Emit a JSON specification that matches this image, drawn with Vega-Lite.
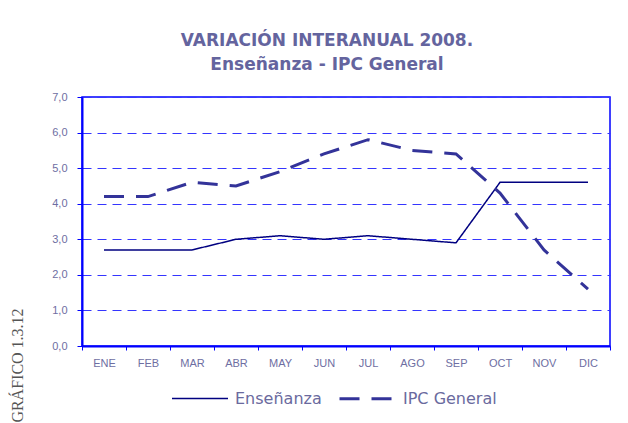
{
  "$schema": "https://vega.github.io/schema/vega-lite/v6.json",
  "width": 528,
  "height": 249,
  "autosize": {"type": "none"},
  "padding": {"left": 82, "top": 97, "right": 18, "bottom": 77},
  "background": "white",
  "title": {
    "text": ["VARIACIÓN INTERANUAL 2008.", "Enseñanza - IPC General"],
    "font": "DejaVu Sans",
    "fontSize": 17,
    "fontWeight": "bold",
    "color": "#64649e",
    "lineHeight": 24,
    "anchor": "middle",
    "frame": "group",
    "baseline": "bottom",
    "offset": 0,
    "dx": -19
  },
  "data": {
    "values": [
      {"mes": "ENE", "serie": "Enseñanza", "valor": 2.7},
      {"mes": "FEB", "serie": "Enseñanza", "valor": 2.7},
      {"mes": "MAR", "serie": "Enseñanza", "valor": 2.7},
      {"mes": "ABR", "serie": "Enseñanza", "valor": 3.0},
      {"mes": "MAY", "serie": "Enseñanza", "valor": 3.1},
      {"mes": "JUN", "serie": "Enseñanza", "valor": 3.0},
      {"mes": "JUL", "serie": "Enseñanza", "valor": 3.1},
      {"mes": "AGO", "serie": "Enseñanza", "valor": 3.0},
      {"mes": "SEP", "serie": "Enseñanza", "valor": 2.9},
      {"mes": "OCT", "serie": "Enseñanza", "valor": 4.6},
      {"mes": "NOV", "serie": "Enseñanza", "valor": 4.6},
      {"mes": "DIC", "serie": "Enseñanza", "valor": 4.6},
      {"mes": "ENE", "serie": "IPC General", "valor": 4.2},
      {"mes": "FEB", "serie": "IPC General", "valor": 4.2},
      {"mes": "MAR", "serie": "IPC General", "valor": 4.6},
      {"mes": "ABR", "serie": "IPC General", "valor": 4.5},
      {"mes": "MAY", "serie": "IPC General", "valor": 4.9},
      {"mes": "JUN", "serie": "IPC General", "valor": 5.4},
      {"mes": "JUL", "serie": "IPC General", "valor": 5.8},
      {"mes": "AGO", "serie": "IPC General", "valor": 5.5},
      {"mes": "SEP", "serie": "IPC General", "valor": 5.4},
      {"mes": "OCT", "serie": "IPC General", "valor": 4.3},
      {"mes": "NOV", "serie": "IPC General", "valor": 2.7},
      {"mes": "DIC", "serie": "IPC General", "valor": 1.6}
    ]
  },
  "mark": {"type": "line", "strokeCap": "butt"},
  "encoding": {
    "x": {
      "field": "mes",
      "type": "ordinal",
      "sort": ["ENE", "FEB", "MAR", "ABR", "MAY", "JUN", "JUL", "AGO", "SEP", "OCT", "NOV", "DIC"],
      "scale": {"type": "band", "paddingInner": 0, "paddingOuter": 0},
      "bandPosition": 0.5,
      "axis": {
        "title": null,
        "labelAngle": 0,
        "tickBand": "extent",
        "grid": false,
        "domainColor": "#0000ff",
        "domainWidth": 2,
        "tickColor": "#0000ff",
        "tickSize": 4,
        "tickWidth": 1,
        "labelFont": "Liberation Sans",
        "labelFontSize": 11,
        "labelColor": "#6e6ea2",
        "labelPadding": 7
      }
    },
    "y": {
      "field": "valor",
      "type": "quantitative",
      "scale": {"domain": [0, 7], "nice": false},
      "axis": {
        "values": [0, 1, 2, 3, 4, 5, 6, 7],
        "labelExpr": "replace(format(datum.value, '.1f'), '.', ',')",
        "grid": true,
        "gridColor": "#3535ff",
        "gridDash": [9, 6],
        "gridWidth": 1,
        "domainColor": "#0000ff",
        "domainWidth": 2,
        "tickColor": "#0000ff",
        "tickSize": 5,
        "tickWidth": 1,
        "labelFont": "Liberation Sans",
        "labelFontSize": 11,
        "labelColor": "#6e6ea2",
        "labelPadding": 10,
        "title": "GRÁFICO 1.3.12",
        "titleFont": "Liberation Serif",
        "titleFontSize": 16,
        "titleFontWeight": "normal",
        "titleColor": "#555555",
        "titleAngle": 270,
        "titleAlign": "center",
        "titleBaseline": "alphabetic",
        "titleX": -60,
        "titleY": 268
      }
    },
    "color": {
      "field": "serie",
      "type": "nominal",
      "scale": {"domain": ["Enseñanza", "IPC General"], "range": ["#000080", "#333399"]},
      "legend": {
        "title": null,
        "orient": "none",
        "direction": "horizontal",
        "legendX": 89,
        "legendY": 272,
        "symbolType": "stroke",
        "symbolSize": 3136,
        "labelFont": "DejaVu Sans",
        "labelFontSize": 16,
        "labelColor": "#6a6a9e",
        "labelOffset": 6,
        "columnPadding": 11
      }
    },
    "strokeDash": {
      "field": "serie",
      "type": "nominal",
      "scale": {"domain": ["Enseñanza", "IPC General"], "range": [[1, 0], [20, 12]]},
      "legend": {
        "title": null,
        "orient": "none",
        "direction": "horizontal",
        "legendX": 89,
        "legendY": 272,
        "symbolType": "stroke",
        "symbolSize": 3136,
        "labelFont": "DejaVu Sans",
        "labelFontSize": 16,
        "labelColor": "#6a6a9e",
        "labelOffset": 6,
        "columnPadding": 11
      }
    },
    "strokeWidth": {
      "field": "serie",
      "type": "nominal",
      "scale": {"domain": ["Enseñanza", "IPC General"], "range": [1.5, 3]},
      "legend": {
        "title": null,
        "orient": "none",
        "direction": "horizontal",
        "legendX": 89,
        "legendY": 272,
        "symbolType": "stroke",
        "symbolSize": 3136,
        "labelFont": "DejaVu Sans",
        "labelFontSize": 16,
        "labelColor": "#6a6a9e",
        "labelOffset": 6,
        "columnPadding": 11
      }
    }
  },
  "config": {
    "view": {"stroke": "#0000ff", "strokeWidth": 1.5}
  }
}
